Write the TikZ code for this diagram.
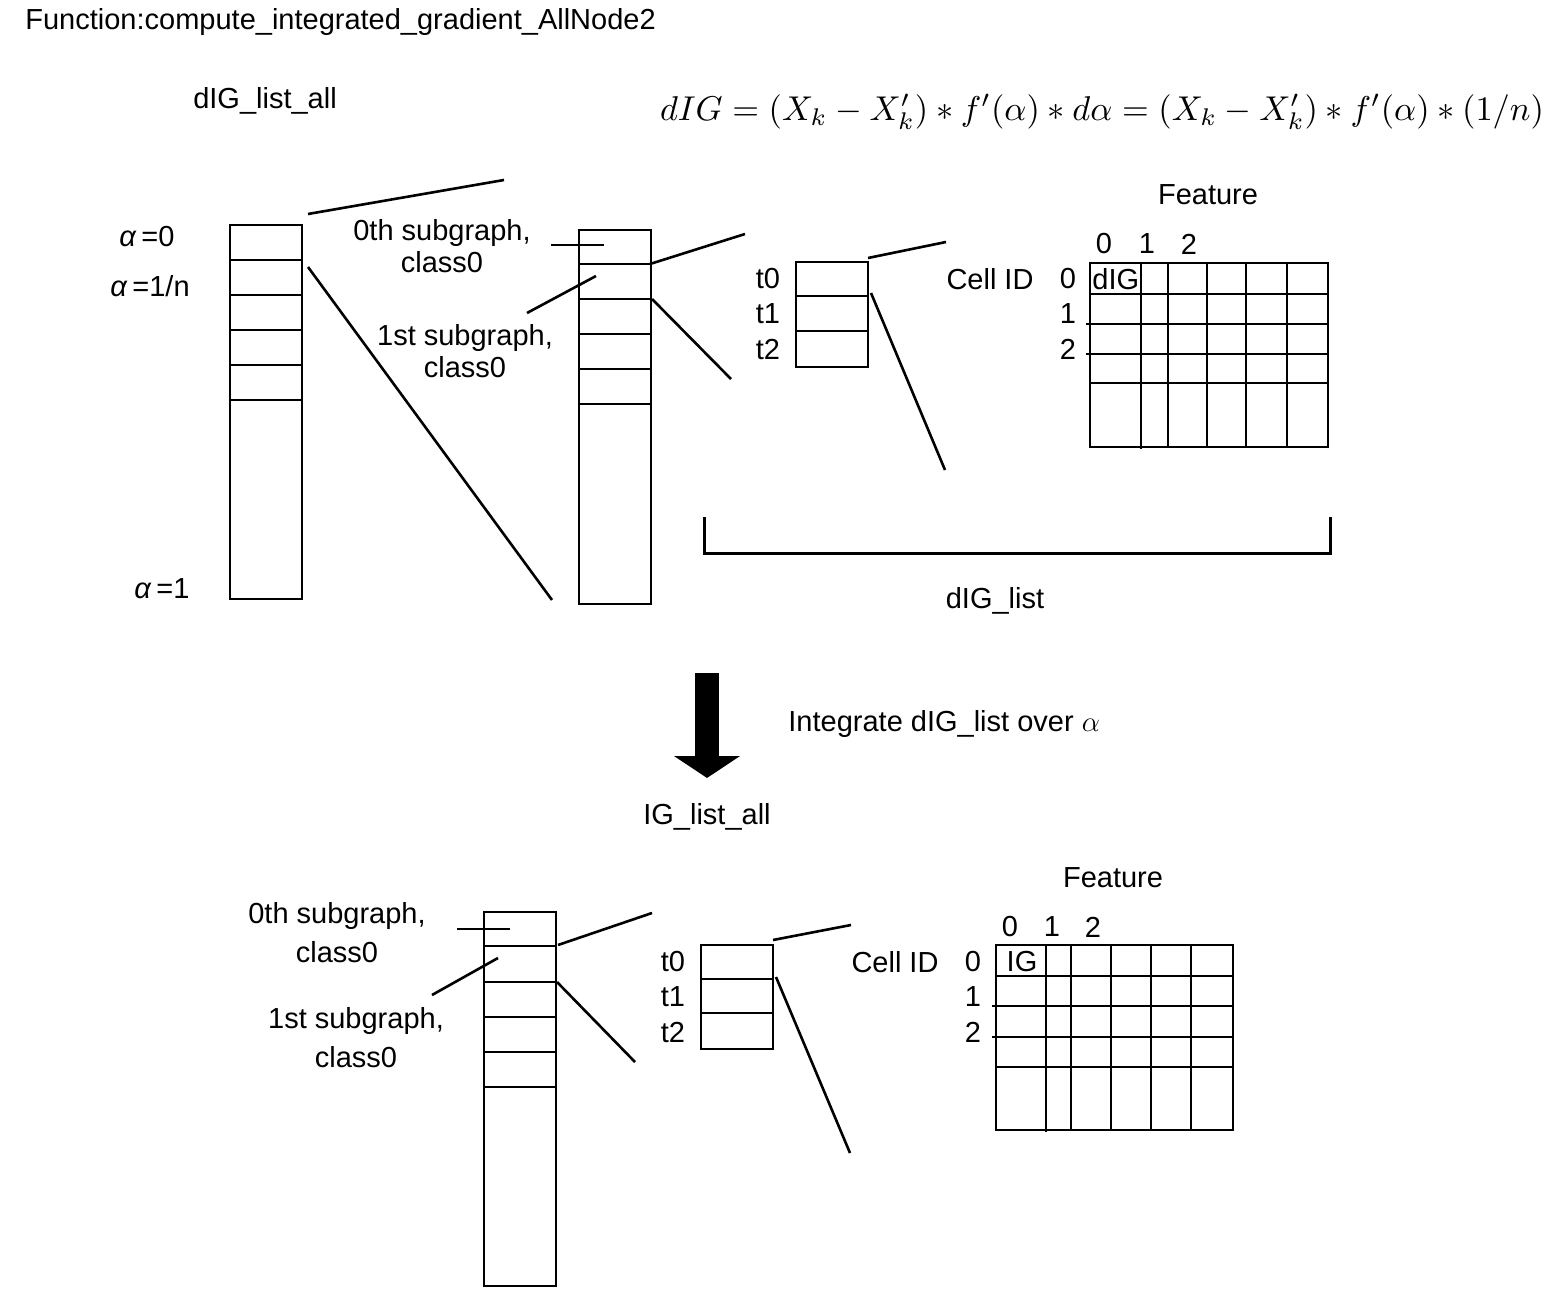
\documentclass[tikz,border=0pt]{standalone}
\usepackage{amsmath}
\usepackage{graphicx}
\usepackage{fontspec}
\setmainfont{Liberation Sans}
\usetikzlibrary{
  arrows.meta,
  positioning,
  calc
}

\begin{document}
\begin{tikzpicture}[
  x=0.5pt, y=-0.5pt,
  lbl/.style={font=\fontsize{14.5}{16}\selectfont, inner sep=0pt, align=center},
  col/.style={draw, line width=0.8pt, inner sep=0pt, anchor=north west,
              minimum width=36pt},
  grd/.style={draw, line width=1pt, inner sep=0pt, anchor=north west,
              minimum width=119pt, minimum height=92pt},
  rowln/.style={line width=0.8pt},
  gridln/.style={line width=1pt},
  zoomln/.style={line width=1.3pt}
]
\useasboundingbox (0,0) rectangle (1557,1299);

\node[lbl, anchor=west] (title) at (25,22)
      {Function:compute\_integrated\_gradient\_AllNode2};
\node[lbl] (diglistall) at (265,101) {dIG\_list\_all};
\node (eq) at (1102,112)
      {\resizebox{442pt}{!}{$dIG = (X_k - X_k') * f'(\alpha) * d\alpha
       = (X_k - X_k') * f'(\alpha) * (1/n)$}};

% upper part
\node[col, minimum height=187pt] (alist) at (229,224) {};
\foreach \y in {260,295,330,365,400}
  \draw[rowln] (229,\y) -- (301,\y);
\node[lbl] (a0) at (147,237) {\textit{α}\,=0};
\node[lbl] (a1n) at (150,286) {\textit{α}\,=1/n};
\node[lbl] (a1) at (162,589) {\textit{α}\,=1};

\node[col, minimum height=187pt] (sglist) at (578,229) {};
\foreach \y in {264,299,334,369,404}
  \draw[rowln] (578,\y) -- (650,\y);
\node[lbl] (sg0) at (442,246) {0th subgraph,\\class0};
\node[lbl] (sg1) at (465,351) {1st subgraph,\\class0};
\draw[zoomln] (551,245) -- (604,245);
\draw[zoomln] (527,313) -- (596,276);

\node[col, minimum height=52.5pt] (tlist) at (795,261) {};
\foreach \y in {296,331}
  \draw[rowln] (795,\y) -- (867,\y);
\node[lbl] (t0) at (768,279) {t0};
\node[lbl] (t1) at (768,314) {t1};
\node[lbl] (t2) at (768,349) {t2};

\node[lbl] (feat) at (1208,195) {Feature};
\node[lbl] (f0) at (1104,244) {0};
\node[lbl] (f1) at (1147,244) {1};
\node[lbl] (f2) at (1189,244) {2};
\node[lbl] (cellid) at (990,279) {Cell ID};
\node[lbl] (c0) at (1068,279) {0};
\node[lbl] (c1) at (1068,314) {1};
\node[lbl] (c2) at (1068,349) {2};
\node[grd] (grid) at (1089,262) {};
\foreach \x in {1168,1207,1246,1287}
  \draw[gridln] (\x,262) -- (\x,446);
\draw[gridln] (1141,262) -- (1141,449);
\draw[gridln] (1089,294) -- (1327,294);
\foreach \y in {324,354}
  \draw[gridln] (1086,\y) -- (1327,\y);
\draw[gridln] (1089,383) -- (1327,383);
\node[lbl, anchor=west] (dig) at (1092,279) {dIG};

\draw[zoomln] (308,214) -- (504,180);
\draw[zoomln] (308,267) -- (552,600);
\draw[zoomln] (650,264) -- (745,234);
\draw[zoomln] (652,299) -- (731,379);
\draw[zoomln] (868,258) -- (946,242);
\draw[zoomln] (871,293) -- (945,470);

\draw[line width=1.5pt] (704,517) -- (704,553) -- (1330,553) -- (1330,517);
\node[lbl] (diglist) at (995,601) {dIG\_list};

% integration step
\draw[line width=12pt, -{Triangle[length=11pt, width=32.5pt]}] (707,673) -- (707,778);
\node[lbl, anchor=west] (integ) at (788,724) {Integrate dIG\_list over $\alpha$};
\node[lbl] (iglistall) at (707,817) {IG\_list\_all};

% lower part
\node[col, minimum height=187pt] (sglistb) at (483,911) {};
\foreach \y in {946,982,1017,1052,1087}
  \draw[rowln] (483,\y) -- (555,\y);
\node[lbl] (sg0b) at (337,933) {0th subgraph,\\[3.5pt]class0};
\node[lbl] (sg1b) at (356,1038) {1st subgraph,\\[3.5pt]class0};
\draw[zoomln] (457,929) -- (510,929);
\draw[zoomln] (432,995) -- (498,958);

\node[col, minimum height=52pt] (tlistb) at (700,944) {};
\foreach \y in {979,1013}
  \draw[rowln] (700,\y) -- (772,\y);
\node[lbl] (t0b) at (673,962) {t0};
\node[lbl] (t1b) at (673,997) {t1};
\node[lbl] (t2b) at (673,1032) {t2};

\node[lbl] (featb) at (1113,878) {Feature};
\node[lbl] (f0b) at (1010,927) {0};
\node[lbl] (f1b) at (1052,927) {1};
\node[lbl] (f2b) at (1093,927) {2};
\node[lbl] (cellidb) at (895,962) {Cell ID};
\node[lbl] (c0b) at (973,962) {0};
\node[lbl] (c1b) at (973,997) {1};
\node[lbl] (c2b) at (973,1032) {2};
\node[grd, minimum width=118.5pt, minimum height=92.5pt] (gridb) at (995,944) {};
\foreach \x in {1071,1111,1151,1191}
  \draw[gridln] (\x,944) -- (\x,1129);
\draw[gridln] (1046,944) -- (1046,1132);
\draw[gridln] (995,976) -- (1232,976);
\foreach \y in {1006,1037}
  \draw[gridln] (992,\y) -- (1232,\y);
\draw[gridln] (995,1067) -- (1232,1067);
\node[lbl] (ig) at (1022,962) {IG};

\draw[zoomln] (558,945) -- (652,913);
\draw[zoomln] (557,982) -- (635,1062);
\draw[zoomln] (773,940) -- (851,925);
\draw[zoomln] (776,977) -- (850,1153);

\end{tikzpicture}
\end{document}
